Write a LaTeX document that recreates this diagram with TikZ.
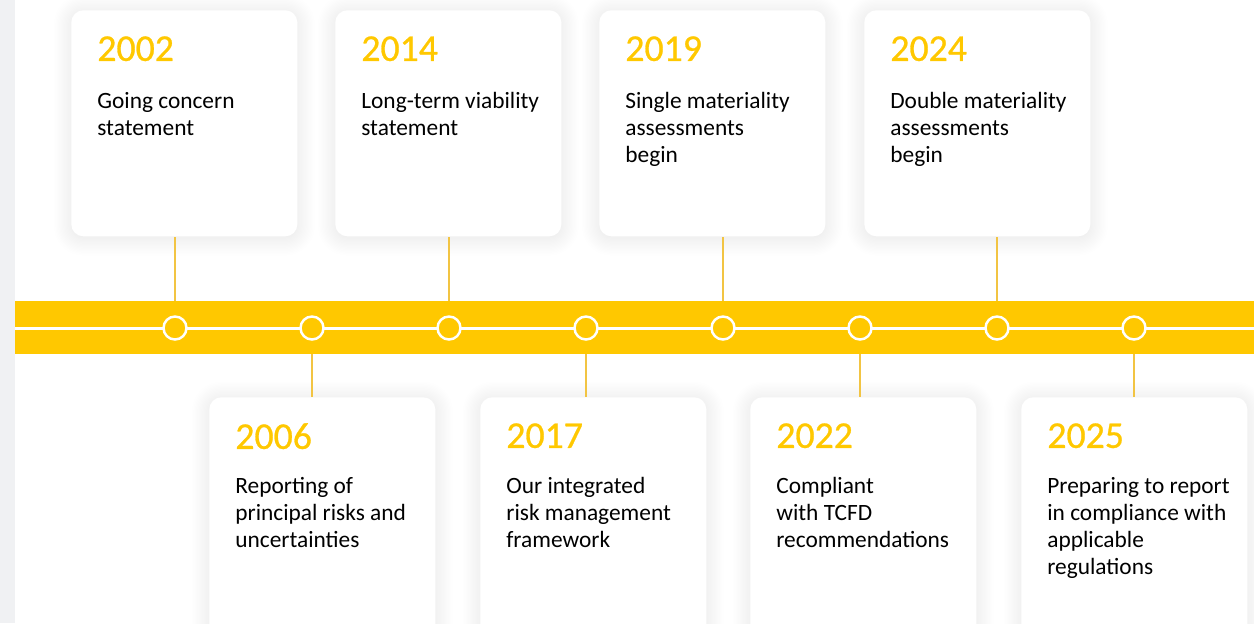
\documentclass[tikz,border=0pt]{standalone}
\usepackage{fontspec}
\setmainfont{Carlito}
\newfontfamily\yearfont[FakeBold=0.7]{Carlito}
\usetikzlibrary{shadows.blur}

\definecolor{tlyellow}{HTML}{FFC800}
\definecolor{tlgold}{HTML}{F2C443}
\definecolor{tlgrey}{HTML}{F0F1F3}

\tikzset{
  card/.style={fill=white, rounded corners=0.24cm, minimum width=4.52cm,
    minimum height=4.52cm, anchor=north west, inner sep=0pt,
    blur shadow={shadow xshift=0pt, shadow yshift=-1pt,
      shadow blur radius=10pt, shadow opacity=11, shadow blur steps=14}},
  tallcard/.style={card, minimum height=4.9cm},
  year/.style={anchor=north west, inner sep=0pt, text=tlyellow,
    font=\yearfont\fontsize{21.5}{25}\selectfont},
  blurb/.style={anchor=north west, inner sep=0pt, align=left,
    font=\fontsize{13.3}{15.3}\selectfont},
  dot/.style={circle, draw=white, line width=1.4pt, fill=tlyellow,
    minimum size=0.46cm, inner sep=0pt},
  stem/.style={draw=tlgold, line width=0.8pt}
}

\begin{document}
\begin{tikzpicture}[x=0.02cm, y=-0.02cm]
  \useasboundingbox (0,0) rectangle (1254,623);
  \fill[tlgrey] (0,0) rectangle (15,623);

  % points on the line
  \coordinate (p1) at (175,328);
  \coordinate (p2) at (312,328);
  \coordinate (p3) at (449,328);
  \coordinate (p4) at (586,328);
  \coordinate (p5) at (723,328);
  \coordinate (p6) at (860,328);
  \coordinate (p7) at (997,328);
  \coordinate (p8) at (1134,328);

  % upper cards
  \node[card] (b2002) at (71,10) {};
  \node[year] (y2002) at ([shift={(26,26)}]b2002.north west) {2002};
  \node[blurb] (t2002) at ([shift={(26,82)}]b2002.north west) {Going concern\\statement};

  \node[card] (b2014) at (335,10) {};
  \node[year] (y2014) at ([shift={(26,26)}]b2014.north west) {2014};
  \node[blurb] (t2014) at ([shift={(26,82)}]b2014.north west) {Long-term viability\\statement};

  \node[card] (b2019) at (599,10) {};
  \node[year] (y2019) at ([shift={(26,26)}]b2019.north west) {2019};
  \node[blurb] (t2019) at ([shift={(26,82)}]b2019.north west) {Single materiality\\assessments\\begin};

  \node[card] (b2024) at (864,10) {};
  \node[year] (y2024) at ([shift={(26,26)}]b2024.north west) {2024};
  \node[blurb] (t2024) at ([shift={(26,82)}]b2024.north west) {Double materiality\\assessments\\begin};

  % lower cards
  \node[tallcard] (b2006) at (209,397) {};
  \node[year] (y2006) at ([shift={(26,26)}]b2006.north west) {2006};
  \node[blurb] (t2006) at ([shift={(26,80)}]b2006.north west) {Reporting of\\principal risks and\\uncertainties};

  \node[tallcard] (b2017) at (480,397) {};
  \node[year] (y2017) at ([shift={(26,26)}]b2017.north west) {2017};
  \node[blurb] (t2017) at ([shift={(26,80)}]b2017.north west) {Our integrated\\risk management\\framework};

  \node[tallcard] (b2022) at (750,397) {};
  \node[year] (y2022) at ([shift={(26,26)}]b2022.north west) {2022};
  \node[blurb] (t2022) at ([shift={(26,80)}]b2022.north west) {Compliant\\with TCFD\\recommendations};

  \node[tallcard] (b2025) at (1021,397) {};
  \node[year] (y2025) at ([shift={(26,26)}]b2025.north west) {2025};
  \node[blurb] (t2025) at ([shift={(26,80)}]b2025.north west) {Preparing to report\\in compliance with\\applicable\\regulations};

  % stems
  \draw[stem] (p1) -- (p1 |- b2002.south);
  \draw[stem] (p3) -- (p3 |- b2014.south);
  \draw[stem] (p5) -- (p5 |- b2019.south);
  \draw[stem] (p7) -- (p7 |- b2024.south);
  \draw[stem] (p2) -- (p2 |- b2006.north);
  \draw[stem] (p4) -- (p4 |- b2017.north);
  \draw[stem] (p6) -- (p6 |- b2022.north);
  \draw[stem] (p8) -- (p8 |- b2025.north);

  % band
  \fill[tlyellow] (15,301) rectangle (1254,354);
  \draw[white, line width=1.7pt] (15,328) -- (1254,328);
  \node[dot] (c1) at (p1) {};
  \node[dot] (c2) at (p2) {};
  \node[dot] (c3) at (p3) {};
  \node[dot] (c4) at (p4) {};
  \node[dot] (c5) at (p5) {};
  \node[dot] (c6) at (p6) {};
  \node[dot] (c7) at (p7) {};
  \node[dot] (c8) at (p8) {};
\end{tikzpicture}
\end{document}
